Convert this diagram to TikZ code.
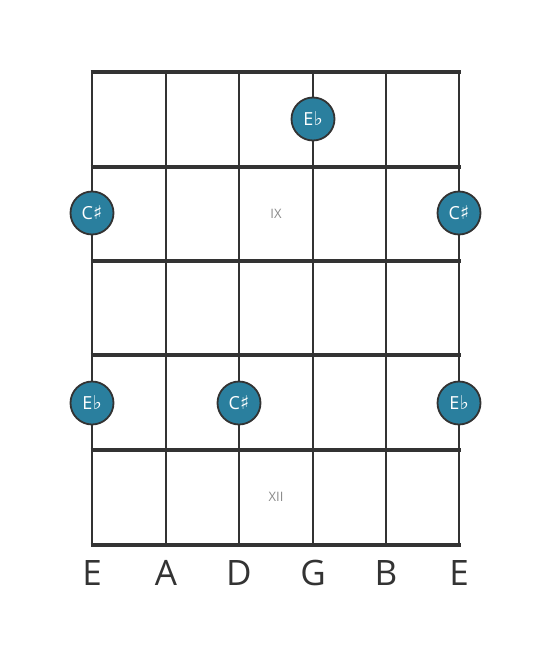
\documentclass[tikz,border=0pt]{standalone}
\usepackage{fontspec}
\setmainfont{Open Sans}
\newfontfamily\symfont{DejaVu Sans}
\definecolor{dotfill}{HTML}{2A7F9E}
\definecolor{linec}{HTML}{333333}
\definecolor{romanc}{HTML}{8A8A8A}
\newcommand{\flatsym}{\kern0.5pt{\symfont\fontsize{19}{19}\selectfont ♭}}
\newcommand{\sharpsym}{{\symfont\fontsize{19}{19}\selectfont ♯}}
\begin{document}
\begin{tikzpicture}[x=1pt,y=-1pt,
  fretline/.style={draw=linec,line width=3.6pt},
  stringline/.style={draw=linec,line width=2.5pt},
  notedot/.style={circle,draw=linec,line width=1.8pt,fill=dotfill,minimum size=43pt,inner sep=0pt,text=white,font=\fontsize{18}{18}\selectfont},
  romanlbl/.style={text=romanc,font=\fontsize{13}{13}\selectfont},
  stringlbl/.style={text=linec,font=\fontsize{35}{35}\selectfont}]
\useasboundingbox (0,0) rectangle (553,656);
% strings
\foreach \x [count=\i] in {92,166,239,313,386,459} {
  \coordinate (st\i) at (\x,72);
  \coordinate (sb\i) at (\x,545);
  \draw[stringline] (st\i) -- (sb\i);
}
% frets
\foreach \y [count=\j] in {72,167,261,355,450,545} {
  \coordinate (fl\j) at (90.5,\y);
  \coordinate (fr\j) at (460.5,\y);
  \draw[fretline] (fl\j) -- (fr\j);
}
\node[romanlbl] (ix) at (276,214) {IX};
\node[romanlbl] (xii) at (276,497) {XII};
\node[notedot] (d1) at (313,119) {E\flatsym};
\node[notedot] (d2) at (92,213) {C\sharpsym};
\node[notedot] (d3) at (459,213) {C\sharpsym};
\node[notedot] (d4) at (92,403) {E\flatsym};
\node[notedot] (d5) at (239,403) {C\sharpsym};
\node[notedot] (d6) at (459,403) {E\flatsym};
\foreach \x/\n [count=\i] in {92/E,166/A,239/D,313/G,386/B,459/E} {
  \node[stringlbl] (lbl\i) at (\x,573) {\n};
}
\end{tikzpicture}
\end{document}
